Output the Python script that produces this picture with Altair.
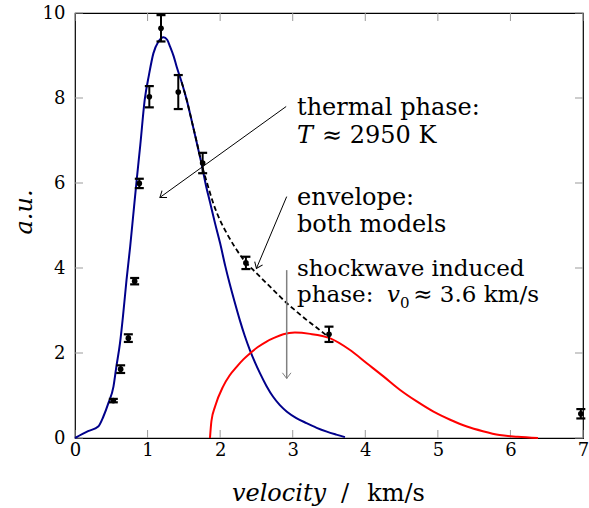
import math
import altair as alt
import pandas as pd

FONT = "DejaVu Serif"

# ---------------- data ----------------
meas_v = [0.528, 0.629, 0.735, 0.822, 0.886, 1.024, 1.185, 1.423, 1.759, 2.355, 3.50, 6.97]
meas_y = [0.88, 1.62, 2.35, 3.69, 5.99, 8.03, 9.64, 8.14, 6.47, 4.12, 2.44, 0.57]
meas_err = [0.04, 0.09, 0.09, 0.075, 0.11, 0.25, 0.31, 0.40, 0.24, 0.145, 0.18, 0.11]

thermal_v = [0.0, 0.18, 0.32, 0.39, 0.46, 0.53, 0.57, 0.62, 0.665, 0.71, 0.76, 0.80, 0.85,
             0.90, 0.96, 1.02, 1.08, 1.15, 1.22, 1.27, 1.31, 1.36, 1.40, 1.47, 1.54, 1.61,
             1.68, 1.75, 1.81, 1.86, 1.93, 2.0, 2.07, 2.13, 2.2, 2.27, 2.34, 2.41, 2.48,
             2.55, 2.64, 2.73, 2.82, 2.92, 3.05, 3.19, 3.33, 3.47, 3.6, 3.72]
thermal_y = [0.0, 0.16, 0.27, 0.5, 0.82, 1.21, 1.68, 2.23, 2.93, 3.72, 4.5, 5.2, 6.07,
             6.9, 7.95, 8.55, 9.05, 9.33, 9.43, 9.37, 9.21, 8.98, 8.74, 8.37, 7.95, 7.45,
             6.93, 6.4, 5.9, 5.55, 5.05, 4.58, 4.05, 3.64, 3.2, 2.78, 2.4, 2.07, 1.78,
             1.52, 1.22, 0.97, 0.78, 0.62, 0.47, 0.35, 0.24, 0.15, 0.08, 0.02]

shock_v = [1.86, 1.88, 1.93, 2.04, 2.13, 2.23, 2.32, 2.41, 2.52, 2.64, 2.75, 2.87, 3.03,
           3.24, 3.51, 3.79, 4.02, 4.25, 4.48, 4.71, 4.94, 5.17, 5.4, 5.62, 5.85, 6.1, 6.38]
shock_y = [0.0, 0.4, 0.74, 1.21, 1.47, 1.68, 1.85, 1.99, 2.14, 2.27, 2.36, 2.44, 2.48,
           2.45, 2.35, 2.07, 1.76, 1.45, 1.13, 0.86, 0.62, 0.43, 0.27, 0.16, 0.07, 0.03, 0.0]

env_v = [1.47, 1.54, 1.61, 1.68, 1.75, 1.82, 1.91, 2.0, 2.09, 2.2, 2.32, 2.5, 2.64, 2.8,
         2.92, 3.05, 3.19, 3.35, 3.49]
env_y = [8.37, 7.95, 7.45, 6.95, 6.42, 6.0, 5.5, 5.12, 4.82, 4.5, 4.2, 3.88, 3.64, 3.37,
         3.17, 2.98, 2.78, 2.57, 2.38]

x_ticks = [0, 1, 2, 3, 4, 5, 6, 7]
y_ticks = [0, 2, 4, 6, 8, 10]

# annotation arrows (data units): start, end, colour
arrow_x1 = [2.91, 2.917, 2.917]
arrow_y1 = [7.80, 5.68, 3.95]
arrow_x2 = [1.17, 2.50, 2.917]
arrow_y2 = [5.66, 3.99, 1.40]
arrow_col = ["black", "black", "#808080"]
arrow_w = [1.0, 1.0, 1.5]

# annotation text pieces (data units)
ann_text = ["thermal phase:", "T", "\u2248 2950 K",
            "envelope:", "both models",
            "shockwave induced", "phase:", "v", "0", "\u2248 3.6 km/s"]
ann_x = [3.059, 3.059, 3.404,
         3.059, 3.059,
         3.059, 3.059, 4.30, 4.48, 4.66]
ann_y = [7.60, 6.94, 6.94,
         5.48, 4.85,
         3.81, 3.20, 3.20, 3.07, 3.20]
ann_italic = [False, True, False,
              False, False,
              False, False, True, False, False]
ann_size = [24, 24, 24, 24, 24, 23, 23, 23, 15, 23]

# ---------------- layout ----------------
W, H = 508, 425
XMAX, YMAX = 7, 10
sx, sy = W / XMAX, H / YMAX

xs = alt.Scale(domain=[0, XMAX], nice=False, zero=False)
ys = alt.Scale(domain=[0, YMAX], nice=False, zero=False)
x_axis = alt.Axis(values=x_ticks, title=None, ticks=False, domain=False, grid=False,
                  labelFont=FONT, labelFontSize=18, labelColor="black", labelPadding=3,
                  labelFlush=False)
y_axis = alt.Axis(values=y_ticks, title=None, ticks=False, domain=False, grid=False,
                  labelFont=FONT, labelFontSize=18, labelColor="black", labelPadding=10)


def X(f):
    return alt.X(f, type="quantitative", scale=xs, axis=x_axis)


def Y(f):
    return alt.Y(f, type="quantitative", scale=ys, axis=y_axis)


meas = pd.DataFrame({"v": meas_v, "y": meas_y, "e": meas_err})
meas["lo"] = meas["y"] - meas["e"]
meas["hi"] = meas["y"] + meas["e"]
thermal = pd.DataFrame({"v": thermal_v, "y": thermal_y})
shock = pd.DataFrame({"v": shock_v, "y": shock_y})
env = pd.DataFrame({"v": env_v, "y": env_y})

# custom inward ticks
xt = pd.DataFrame({"v": x_ticks, "b": [0] * len(x_ticks), "t": [YMAX] * len(x_ticks)})
yt = pd.DataFrame({"y": y_ticks, "l": [0] * len(y_ticks), "r": [XMAX] * len(y_ticks)})
tick_style = dict(color="#9a9a9a", thickness=1, size=8, opacity=1)
t_bottom = alt.Chart(xt).mark_tick(orient="vertical", yOffset=-4, **tick_style).encode(x=X("v"), y=Y("b"))
t_top = alt.Chart(xt).mark_tick(orient="vertical", yOffset=4, **tick_style).encode(x=X("v"), y=Y("t"))
t_left = alt.Chart(yt).mark_tick(orient="horizontal", xOffset=4, **tick_style).encode(x=X("l"), y=Y("y"))
t_right = alt.Chart(yt).mark_tick(orient="horizontal", xOffset=-4, **tick_style).encode(x=X("r"), y=Y("y"))

blue = alt.Chart(thermal).mark_line(color="#00008b", strokeWidth=2, interpolate="monotone").encode(
    x=X("v"), y=Y("y"), order="v:Q")
red = alt.Chart(shock).mark_line(color="#ff0000", strokeWidth=2, interpolate="monotone").encode(
    x=X("v"), y=Y("y"), order="v:Q")
dashed = alt.Chart(env).mark_line(color="black", strokeWidth=1.8, strokeDash=[5, 3],
                                  interpolate="monotone").encode(x=X("v"), y=Y("y"), order="v:Q")

ebar = alt.Chart(meas).mark_rule(color="black", strokeWidth=2).encode(x=X("v"), y=Y("lo"), y2="hi")
cap_lo = alt.Chart(meas).mark_tick(orient="horizontal", color="black", thickness=2.2, size=9,
                                   opacity=1).encode(x=X("v"), y=Y("lo"))
cap_hi = alt.Chart(meas).mark_tick(orient="horizontal", color="black", thickness=2.2, size=9,
                                   opacity=1).encode(x=X("v"), y=Y("hi"))
pts = alt.Chart(meas).mark_point(filled=True, color="black", size=32, opacity=1).encode(
    x=X("v"), y=Y("y"))

arr = pd.DataFrame({"x1": arrow_x1, "y1": arrow_y1, "x2": arrow_x2, "y2": arrow_y2,
                    "col": arrow_col, "w": arrow_w})
arr["ang"] = [
    (math.degrees(math.atan2(-(b2 - b1) * sy, (a2 - a1) * sx)) + 360) % 360
    for a1, b1, a2, b2 in zip(arrow_x1, arrow_y1, arrow_x2, arrow_y2)
]
arrow_lines = alt.Chart(arr).mark_rule().encode(
    x=X("x1"), y=Y("y1"), x2="x2", y2="y2",
    color=alt.Color("col:N", scale=None),
    strokeWidth=alt.StrokeWidth("w:Q", scale=None))
arrow_heads = alt.Chart(arr).mark_point(
    shape="M -1 -0.75 L 0 0 L -1 0.75", filled=False, size=130, strokeWidth=1, opacity=1
).encode(x=X("x2"), y=Y("y2"), angle=alt.Angle("ang:Q", scale=None),
         color=alt.Color("col:N", scale=None))

ann = pd.DataFrame({"t": ann_text, "x": ann_x, "y": ann_y, "it": ann_italic, "s": ann_size})
ann_norm = alt.Chart(ann[~ann["it"]]).mark_text(
    font=FONT, align="left", baseline="alphabetic", color="black").encode(
    x=X("x"), y=Y("y"), text="t:N", size=alt.Size("s:Q", scale=None))
ann_ital = alt.Chart(ann[ann["it"]]).mark_text(
    font=FONT, fontStyle="italic", align="left", baseline="alphabetic", color="black").encode(
    x=X("x"), y=Y("y"), text="t:N", size=alt.Size("s:Q", scale=None))

# axis titles (pixel positions relative to the plot area)
ytitle = alt.Chart(pd.DataFrame({"t": ["a.u."]})).mark_text(
    font=FONT, fontStyle="italic", fontSize=24, angle=270, align="center",
    baseline="alphabetic", color="black").encode(x=alt.value(-43), y=alt.value(199), text="t:N")
xt1 = alt.Chart(pd.DataFrame({"t": ["velocity"]})).mark_text(
    font=FONT, fontStyle="italic", fontSize=24, align="center", baseline="alphabetic",
    color="black").encode(x=alt.value(204), y=alt.value(488), text="t:N")
xt2 = alt.Chart(pd.DataFrame({"t": ["/"]})).mark_text(
    font=FONT, fontSize=24, align="center", baseline="alphabetic",
    color="black").encode(x=alt.value(270), y=alt.value(488), text="t:N")
xt3 = alt.Chart(pd.DataFrame({"t": ["km/s"]})).mark_text(
    font=FONT, fontSize=24, align="center", baseline="alphabetic",
    color="black").encode(x=alt.value(321), y=alt.value(488), text="t:N")

chart = alt.layer(
    t_bottom, t_top, t_left, t_right,
    blue, dashed, red,
    arrow_lines, arrow_heads,
    ebar, cap_lo, cap_hi, pts,
    ann_norm, ann_ital,
    ytitle, xt1, xt2, xt3,
).properties(
    width=W, height=H,
    padding={"left": 75, "top": 13, "right": 6, "bottom": 70},
    autosize=alt.AutoSizeParams(type="none"),
    background="white",
).configure_view(
    stroke="black", strokeWidth=1.2
).configure_axis(
    labelFont=FONT
)

chart.save("out.html", embed_options={"renderer": "svg", "actions": False})
